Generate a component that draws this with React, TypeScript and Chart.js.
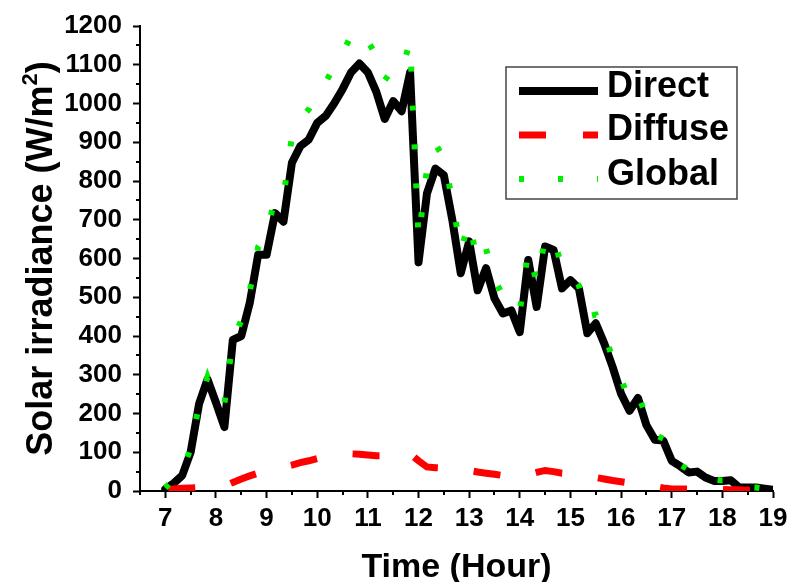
import { useEffect, useRef } from 'react';
import { Chart, registerables } from 'chart.js';

Chart.register(...registerables);

// Time of day (hours), 10-minute readings
const TIME = [
  7.0, 7.1667, 7.3333, 7.5, 7.6667, 7.8333,
  8.0, 8.1667, 8.3333, 8.5, 8.6667, 8.8333,
  9.0, 9.1667, 9.3333, 9.5, 9.6667, 9.8333,
  10.0, 10.1667, 10.3333, 10.5, 10.6667, 10.8333,
  11.0, 11.1667, 11.3333, 11.5, 11.6667, 11.8333,
  12.0, 12.1667, 12.3333, 12.5, 12.6667, 12.8333,
  13.0, 13.1667, 13.3333, 13.5, 13.6667, 13.8333,
  14.0, 14.1667, 14.3333, 14.5, 14.6667, 14.8333,
  15.0, 15.1667, 15.3333, 15.5, 15.6667, 15.8333,
  16.0, 16.1667, 16.3333, 16.5, 16.6667, 16.8333,
  17.0, 17.1667, 17.3333, 17.5, 17.6667, 17.8333,
  18.0, 18.1667, 18.3333, 18.5, 18.6667, 18.8333,
  19.0,
];

const DIRECT = [
  5, 20, 40, 100, 225, 288,
  228, 165, 390, 400, 485, 610,
  610, 717, 695, 847, 890, 907,
  950, 968, 1000, 1037, 1080, 1103,
  1080, 1030, 960, 1006, 980, 1080,
  590, 768, 832, 815, 700, 562,
  644, 518, 575, 497, 458, 466,
  410, 596, 475, 631, 622, 523,
  544, 523, 407, 433, 381, 320,
  251, 207, 240, 170, 132, 130,
  78, 64, 48, 50, 35, 26,
  26, 28, 9, 9, 9, 6,
  3,
];

const DIFFUSE = [
  3, 5, 7, 8, 9, 10,
  11, 13, 22, 31, 39, 46,
  52, 57, 62, 67, 73, 78,
  84, 89, 93, 95, 96, 95,
  93, 91, 91, 93, 95, 96,
  78, 62, 60, 59, 58, 56,
  53, 49, 46, 43, 40, 37,
  36, 42, 48, 53, 50, 46,
  44, 41, 38, 35, 31, 27,
  24, 21, 19, 16, 12, 8,
  5, 5, 5, 5, 5, 4,
  4, 3, 3, 2, 2, 1,
  1,
];

const GLOBAL = [
  8, 30, 50, 110, 225, 294,
  235, 226, 390, 440, 515, 630,
  660, 760, 760, 915, 960, 985,
  1030, 1055, 1095, 1130, 1175, 1190,
  1160, 1125, 1060, 1090, 1085, 1160,
  650, 830, 895, 860, 750, 620,
  695, 590, 625, 545, 505, 490,
  464, 620, 540, 650, 655, 575,
  560, 530, 450, 455, 410, 340,
  290, 232, 250, 190, 145, 135,
  85, 68, 55, 52, 38, 30,
  27, 28, 12, 10, 9, 6,
  4,
];

const X_TICKS = [7, 8, 9, 10, 11, 12, 13, 14, 15, 16, 17, 18, 19];
const X_MINOR = [6.5, 7.5, 8.5, 9.5, 10.5, 11.5, 12.5, 13.5, 14.5, 15.5, 16.5, 17.5, 18.5];
const Y_TICKS = [0, 100, 200, 300, 400, 500, 600, 700, 800, 900, 1000, 1100, 1200];
const Y_MINOR = [50, 150, 250, 350, 450, 550, 650, 750, 850, 950, 1050, 1150];

const SERIES_NAMES = ['Direct', 'Diffuse', 'Global'];
const X_TITLE = 'Time (Hour)';
const Y_TITLE_MAIN = 'Solar irradiance (W/m';
const Y_TITLE_SUP = '2';
const Y_TITLE_END = ')';

const FONT = '"Liberation Sans", Arial, Helvetica, sans-serif';

const BLACK = '#000000';
const RED = '#ff0000';
const GREEN = '#00ee00';

export default function App() {
  const canvasRef = useRef<HTMLCanvasElement | null>(null);

  useEffect(() => {
    document.body.style.margin = '0';
    const canvas = canvasRef.current;
    if (!canvas) return;

    const pts = (vals: number[]) => TIME.map((t, i) => ({ x: t, y: vals[i] }));

    const extras = {
      id: 'extras',
      afterDraw(chart: any) {
        const ctx = chart.ctx as CanvasRenderingContext2D;
        const xs = chart.scales.x;
        const ys = chart.scales.y;
        const area = chart.chartArea;
        ctx.save();
        // minor ticks
        ctx.strokeStyle = BLACK;
        ctx.lineWidth = 2;
        ctx.beginPath();
        X_MINOR.forEach((v) => {
          const px = Math.round(xs.getPixelForValue(v));
          ctx.moveTo(px, area.bottom);
          ctx.lineTo(px, area.bottom + 4);
        });
        Y_MINOR.forEach((v) => {
          const py = Math.round(ys.getPixelForValue(v));
          ctx.moveTo(area.left, py);
          ctx.lineTo(area.left - 4, py);
        });
        ctx.stroke();

        // x title
        ctx.fillStyle = BLACK;
        ctx.font = `bold 34px ${FONT}`;
        ctx.textAlign = 'center';
        ctx.textBaseline = 'alphabetic';
        ctx.fillText(X_TITLE, (area.left + area.right) / 2, 577);

        // y title (rotated, with superscript)
        ctx.save();
        ctx.translate(52, (area.top + area.bottom) / 2);
        ctx.rotate(-Math.PI / 2);
        ctx.textAlign = 'left';
        ctx.font = `bold 36px ${FONT}`;
        const wMain = ctx.measureText(Y_TITLE_MAIN).width;
        const wEnd = ctx.measureText(Y_TITLE_END).width;
        ctx.font = `bold 22px ${FONT}`;
        const wSup = ctx.measureText(Y_TITLE_SUP).width;
        const total = wMain + wSup + wEnd;
        const x0 = -total / 2;
        ctx.font = `bold 36px ${FONT}`;
        ctx.fillText(Y_TITLE_MAIN, x0, 0);
        ctx.fillText(Y_TITLE_END, x0 + wMain + wSup, 0);
        ctx.font = `bold 22px ${FONT}`;
        ctx.fillText(Y_TITLE_SUP, x0 + wMain, -15);
        ctx.restore();

        // legend
        ctx.fillStyle = '#ffffff';
        ctx.fillRect(506, 67, 231, 132);
        ctx.strokeStyle = '#444444';
        ctx.lineWidth = 1.5;
        ctx.strokeRect(506, 67, 231, 132);
        const rows = [91, 135, 179];
        const styles = [
          { color: BLACK, width: 8, dash: [] as number[] },
          { color: RED, width: 7, dash: [27, 37] },
          { color: GREEN, width: 6, dash: [5, 34] },
        ];
        rows.forEach((y, i) => {
          ctx.beginPath();
          ctx.strokeStyle = styles[i].color;
          ctx.lineWidth = styles[i].width;
          ctx.setLineDash(styles[i].dash);
          ctx.lineCap = 'butt';
          ctx.moveTo(519, y);
          ctx.lineTo(598, y);
          ctx.stroke();
        });
        ctx.setLineDash([]);
        ctx.fillStyle = BLACK;
        ctx.font = `bold 36px ${FONT}`;
        ctx.textAlign = 'left';
        ctx.textBaseline = 'alphabetic';
        const baselines = [97, 140, 185];
        SERIES_NAMES.forEach((n, i) => ctx.fillText(n, 607, baselines[i]));
        ctx.restore();
      },
    };

    const tickFont = { family: FONT, size: 26, weight: 'bold' as const };

    const chart = new Chart(canvas, {
      type: 'line',
      data: {
        datasets: [
          {
            label: SERIES_NAMES[0],
            data: pts(DIRECT),
            borderColor: BLACK,
            borderWidth: 8,
            borderJoinStyle: 'round',
            borderCapStyle: 'round',
            pointRadius: 0,
            tension: 0,
            order: 3,
          },
          {
            label: SERIES_NAMES[1],
            data: pts(DIFFUSE),
            borderColor: RED,
            borderWidth: 7,
            borderDash: [27, 36],
            borderDashOffset: -3,
            pointRadius: 0,
            tension: 0,
            order: 2,
          },
          {
            label: SERIES_NAMES[2],
            data: pts(GLOBAL),
            borderColor: GREEN,
            borderWidth: 6,
            borderDash: [5, 34],
            pointRadius: 0,
            tension: 0,
            order: 1,
          },
        ],
      },
      options: {
        responsive: false,
        animation: false,
        devicePixelRatio: 1,
        layout: { padding: { top: 26, right: 14, left: 0, bottom: 0 } },
        plugins: {
          legend: { display: false },
          tooltip: { enabled: false },
          title: { display: false },
        },
        scales: {
          x: {
            type: 'linear',
            min: 6.5,
            max: 19,
            afterBuildTicks: (s: any) => {
              s.ticks = X_TICKS.map((v) => ({ value: v }));
            },
            afterFit: (s: any) => {
              s.height = 91;
              s.paddingLeft = 0;
              s.paddingRight = 0;
            },
            grid: {
              drawOnChartArea: false,
              drawTicks: true,
              tickLength: 7,
              tickWidth: 2,
              tickColor: BLACK,
            },
            border: { display: true, color: BLACK, width: 2 },
            ticks: {
              font: tickFont,
              color: BLACK,
              padding: 5,
              autoSkip: false,
              maxRotation: 0,
              callback: (v: any) => String(v),
            },
          },
          y: {
            type: 'linear',
            min: 0,
            max: 1200,
            afterBuildTicks: (s: any) => {
              s.ticks = Y_TICKS.map((v) => ({ value: v }));
            },
            afterFit: (s: any) => {
              s.width = 140;
              s.paddingTop = 0;
              s.paddingBottom = 0;
            },
            grid: {
              drawOnChartArea: false,
              drawTicks: true,
              tickLength: 7,
              tickWidth: 2,
              tickColor: BLACK,
            },
            border: { display: true, color: BLACK, width: 2 },
            ticks: {
              font: tickFont,
              color: BLACK,
              padding: 11,
              autoSkip: false,
              callback: (v: any) => String(v),
            },
          },
        },
      },
      plugins: [extras],
    } as any);

    return () => chart.destroy();
  }, []);

  return (
    <div style={{ width: 787, height: 582, background: '#ffffff' }}>
      <canvas ref={canvasRef} width={787} height={582} style={{ display: 'block', width: 787, height: 582 }} />
    </div>
  );
}
